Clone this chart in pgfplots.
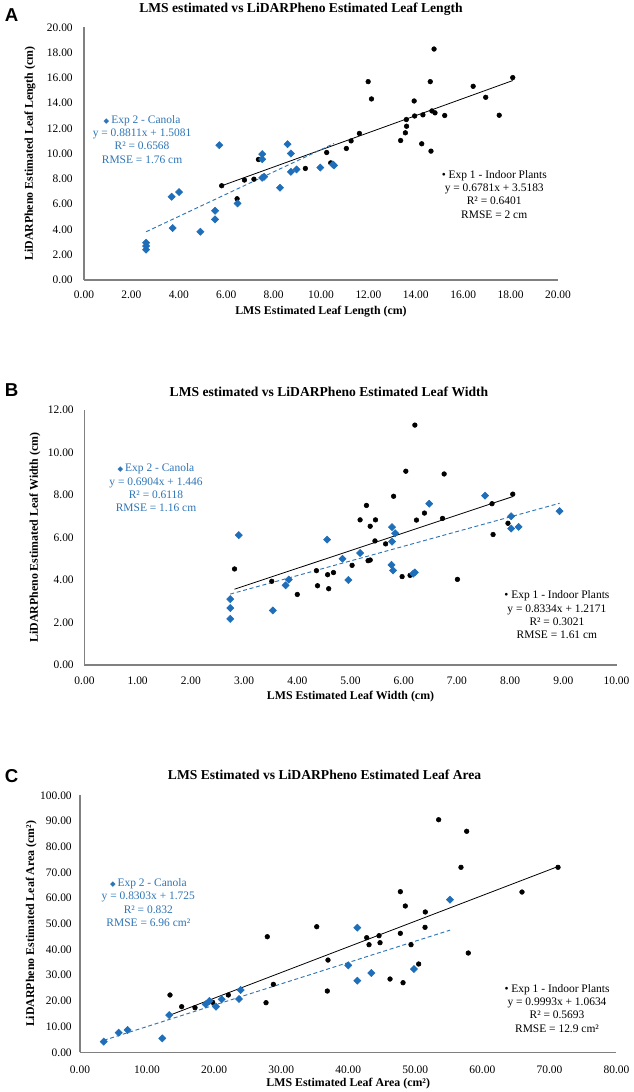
\documentclass[border=0pt]{standalone}
\usepackage{fontspec}
\setmainfont{Liberation Serif}
\newfontfamily\arial{Liberation Sans}
\newfontfamily\dejavu{DejaVu Sans}
\usepackage{pgfplots}
\pgfplotsset{compat=1.18}
\definecolor{cblue}{RGB}{46,117,182}
\definecolor{mblue}{RGB}{31,110,185}
\definecolor{axgray}{RGB}{128,128,128}
\def\u{0.75pt}
\newcommand{\tfont}{\fontsize{8.6}{10}\selectfont}
\newcommand{\lfont}{\fontsize{8.9}{10}\selectfont}
\pgfplotsset{
  myaxis/.style={
    scale only axis,
    anchor=south west,
    axis lines=left,
    axis line style={-, axgray, line width=0.9pt},
    major tick length=0pt,
    tick style={draw=none},
    /pgf/number format/fixed,
    /pgf/number format/fixed zerofill,
    /pgf/number format/precision=2,
    /pgf/number format/assume math mode=true,
    ticklabel style={font=\tfont, text=black},
    yticklabel style={anchor=east, inner sep=0pt},
    xticklabel style={anchor=center},
    label style={font=\bfseries\lfont},
    xlabel style={anchor=center},
    ylabel style={anchor=center},
    clip=false,
  },
  blk/.style={only marks, mark=*, mark size=1.75pt, mark options={fill=black, draw=black}},
  blu/.style={only marks, mark=square*, mark size=1.9pt, mark options={rotate=45, fill=mblue, draw=mblue}},
  blkline/.style={no marks, black, line width=0.6pt},
  bluline/.style={no marks, cblue, line width=0.7pt, dash pattern=on 3pt off 2pt},
}
\begin{document}
\begin{tikzpicture}
\useasboundingbox (0,0) rectangle (633*\u,-1092*\u);
% panel letters and titles
\node[font=\arial\bfseries\fontsize{14}{16}\selectfont] at (11.5*\u,-15*\u) {A};
\node[font=\arial\bfseries\fontsize{14}{16}\selectfont] at (11.5*\u,-390*\u) {B};
\node[font=\arial\bfseries\fontsize{14}{16}\selectfont] at (11.5*\u,-776*\u) {C};
\node[font=\bfseries\fontsize{10.2}{12}\selectfont] at (301*\u,-9*\u) {LMS estimated vs LiDARPheno Estimated Leaf Length};
\node[font=\bfseries\fontsize{10.2}{12}\selectfont] at (329*\u,-391.7*\u) {LMS estimated vs LiDARPheno Estimated Leaf Width};
\node[font=\bfseries\fontsize{10.2}{12}\selectfont] at (324.6*\u,-775*\u) {LMS Estimated vs LiDARPheno Estimated Leaf Area};

% ---------------- Panel A ----------------
\begin{axis}[myaxis,
  at={(84*\u,-280*\u)}, width=474*\u, height=252.7*\u,
  xmin=0, xmax=20, ymin=0, ymax=20,
  xtick distance=2, ytick distance=2,
  xticklabel style={yshift=-15*\u},
  yticklabel style={xshift=-11*\u},
  xlabel={LMS Estimated Leaf Length (cm)},
  ylabel={LiDARPheno Estimated Leaf Length (cm)},
  xlabel style={at={(axis description cs:0.5,-0.125)}},
  ylabel style={at={(axis description cs:-0.114,0.5)}},
]
\addplot[blk] coordinates {
(5.81,7.46) (6.46,6.43) (6.77,7.91) (7.17,7.98) (7.36,9.54) (9.34,8.83)
(10.24,10.09) (10.41,9.27) (11.07,10.41) (11.27,11.01) (11.62,11.60)
(11.99,15.70) (12.13,14.33) (13.36,11.04) (13.56,11.65) (13.61,12.17)
(13.60,12.70) (13.95,12.98) (13.93,14.17) (14.30,13.07) (14.25,10.78)
(14.64,10.20) (14.68,13.38) (14.81,13.23) (14.61,15.70) (14.77,18.28)
(15.22,13.02) (16.42,15.33) (16.95,14.46) (17.52,13.04) (18.09,16.02)};
\addplot[blu] coordinates {
(2.62,2.95) (2.62,2.69) (2.62,2.40) (3.70,6.59) (3.74,4.11) (4.01,6.96)
(4.91,3.82) (5.53,5.48) (5.53,4.80) (5.71,10.67) (6.48,6.06) (7.52,9.96)
(7.52,9.56) (7.52,8.09) (7.60,8.17) (8.27,7.30) (8.59,10.75) (8.73,10.01)
(8.73,8.56) (8.97,8.75) (9.97,8.90) (10.50,9.15) (10.55,9.07)};
\addplot[blkline] coordinates {(5.81,7.458) (18.09,15.785)};
\addplot[bluline] coordinates {(2.62,3.817) (10.55,10.804)};
\node[align=center, text=cblue, font=\tfont] at (axis cs:2.45,11.13)
  {{\dejavu\fontsize{5.5}{6}\selectfont ◆}\,Exp 2 - Canola\\y = 0.8811x + 1.5081\\R² = 0.6568\\RMSE = 1.76 cm};
\node[align=center, text=black, font=\tfont] at (axis cs:17.31,6.8)
  {• Exp 1 - Indoor Plants\\y = 0.6781x + 3.5183\\R² = 0.6401\\RMSE = 2 cm};
\end{axis}

% ---------------- Panel B ----------------
\begin{axis}[myaxis,
  at={(84.5*\u,-665*\u)}, width=532*\u, height=255*\u,
  xmin=0, xmax=10, ymin=0, ymax=12,
  xtick distance=1, ytick distance=2,
  xticklabel style={yshift=-16*\u},
  yticklabel style={xshift=-10.5*\u},
  xlabel={LMS Estimated Leaf Width (cm)},
  ylabel={LiDARPheno Estimated Leaf Width (cm)},
  xlabel style={at={(axis description cs:0.5,-0.125)}},
  ylabel style={at={(axis description cs:-0.093,0.5)}},
]
\addplot[blk] coordinates {
(2.82,4.52) (3.52,3.94) (4.00,3.32) (4.36,4.44) (4.38,3.73) (4.57,4.25)
(4.68,4.35) (4.59,3.59) (5.03,4.69) (5.30,7.51) (5.18,6.83) (5.37,6.53)
(5.47,6.83) (5.33,4.91) (5.37,4.94) (5.46,5.84) (5.66,5.70) (5.81,7.94)
(5.97,4.16) (6.04,9.12) (6.12,4.22) (6.21,11.29) (6.24,6.82) (6.39,7.15)
(6.73,6.90) (6.76,8.99) (7.01,4.03) (7.66,7.59) (7.68,6.14) (7.96,6.67)
(8.05,8.04)};
\addplot[blu] coordinates {
(2.74,3.10) (2.74,2.68) (2.74,2.17) (2.90,6.11) (3.54,2.57) (3.78,3.75)
(3.84,4.02) (4.56,5.90) (4.85,5.00) (4.96,4.00) (5.18,5.27) (5.77,4.71)
(5.80,4.45) (5.78,6.49) (5.84,6.20) (5.78,5.81) (6.18,4.30) (6.21,4.36)
(6.48,7.59) (7.53,7.97) (8.02,7.00) (8.02,6.42) (8.16,6.50) (8.93,7.24)};
\addplot[blkline] coordinates {(2.82,3.567) (8.05,7.926)};
\addplot[bluline] coordinates {(2.74,3.338) (8.93,7.611)};
\node[align=center, text=cblue, font=\tfont] at (axis cs:1.344,8.34)
  {{\dejavu\fontsize{5.5}{6}\selectfont ◆}\,Exp 2 - Canola\\y = 0.6904x + 1.446\\R² = 0.6118\\RMSE = 1.16 cm};
\node[align=center, text=black, font=\tfont] at (axis cs:8.88,2.36)
  {• Exp 1 - Indoor Plants\\y = 0.8334x + 1.2171\\R² = 0.3021\\RMSE = 1.61 cm};
\end{axis}

% ---------------- Panel C ----------------
\begin{axis}[myaxis,
  at={(80*\u,-1052.3*\u)}, width=536.5*\u, height=257*\u,
  xmin=0, xmax=80, ymin=0, ymax=100,
  xtick distance=10, ytick distance=10,
  xticklabel style={yshift=-17.7*\u},
  yticklabel style={xshift=-8*\u},
  xlabel={LMS Estimated Leaf Area (cm²)},
  ylabel={LiDARPheno Estimated Leaf Area (cm²)},
  xlabel style={at={(axis description cs:0.5,-0.121)}},
  ylabel style={at={(axis description cs:-0.091,0.5)}},
]
\addplot[blk] coordinates {
(13.42,22.30) (15.16,17.75) (17.15,17.36) (19.78,19.46) (22.12,22.30)
(27.74,19.30) (27.93,44.98) (28.83,26.45) (35.30,48.87) (36.98,35.90)
(36.88,23.85) (42.75,44.60) (43.10,41.87) (44.59,45.37) (44.74,42.65)
(46.23,28.52) (47.77,62.50) (47.77,46.30) (48.17,27.08) (48.51,56.93)
(49.36,41.87) (50.50,34.36) (51.45,48.63) (51.49,54.60) (53.48,90.50)
(56.81,71.98) (57.66,86.00) (57.90,38.64) (65.91,62.37) (71.28,71.98)};
\addplot[blu] coordinates {
(3.54,4.14) (5.77,7.64) (7.10,8.70) (12.27,5.43) (13.30,14.50)
(18.74,18.68) (19.29,19.96) (20.28,17.75) (21.13,20.62) (23.71,20.74)
(23.96,24.24) (40.00,33.85) (41.35,48.48) (41.35,27.86) (43.44,30.86)
(49.80,32.41) (55.17,59.38)};
\addplot[blkline] coordinates {(13.42,14.474) (71.28,72.294)};
\addplot[bluline] coordinates {(3.54,4.664) (55.17,47.532)};
\node[align=center, text=cblue, font=\tfont] at (axis cs:10.19,58.3)
  {{\dejavu\fontsize{5.5}{6}\selectfont ◆}\,Exp 2 - Canola\\y = 0.8303x + 1.725\\R² = 0.832\\RMSE = 6.96 cm²};
\node[align=center, text=black, font=\tfont] at (axis cs:71.13,17.1)
  {• Exp 1 - Indoor Plants\\y = 0.9993x + 1.0634\\R² = 0.5693\\RMSE = 12.9 cm²};
\end{axis}
\end{tikzpicture}
\end{document}
